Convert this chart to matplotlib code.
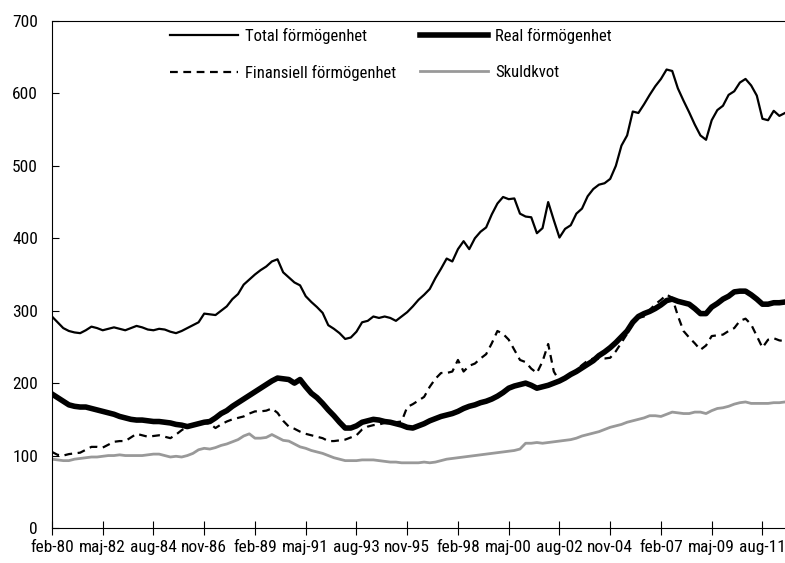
import matplotlib
matplotlib.use('Agg')
import matplotlib.pyplot as plt
from matplotlib import font_manager
import numpy as np

# quarterly values, feb-80 .. aug-12
total = [292, 284, 276, 272, 270, 269, 273, 278, 276, 273, 275, 277, 275, 273, 276, 279,
         277, 274, 273, 275, 274, 271, 269, 272, 276, 280, 284, 296, 295, 294, 300, 306,
         316, 323, 336, 343, 350, 356, 361, 368, 371, 353, 346, 339, 335, 320, 312, 305,
         297, 280, 275, 269, 261, 263, 271, 284, 286, 292, 290, 292, 290, 286, 292, 298,
         306, 315, 322, 330, 345, 358, 372, 368, 385, 396, 385, 400, 409, 415, 433, 448,
         457, 454, 455, 434, 430, 429, 407, 414, 450, 425, 401, 413, 418, 434, 441, 458,
         468, 474, 476, 482, 500, 528, 542, 575, 573, 585, 598, 610, 620, 633, 631, 607,
         590, 574, 557, 542, 536, 563, 577, 583, 598, 603, 615, 620, 611, 597, 565, 563,
         576, 569, 573]
real = [185, 180, 175, 170, 168, 167, 167, 165, 163, 161, 159, 157, 154, 152, 150, 149,
        149, 148, 147, 147, 146, 145, 143, 142, 140, 142, 144, 146, 147, 152, 158, 162,
        168, 173, 178, 183, 188, 193, 198, 203, 207, 206, 205, 200, 205, 195, 186, 180,
        172, 163, 155, 146, 138, 138, 141, 146, 148, 150, 149, 147, 146, 144, 142, 139,
        138, 141, 144, 148, 151, 154, 156, 158, 161, 165, 168, 170, 173, 175, 178, 182,
        187, 193, 196, 198, 200, 197, 193, 195, 197, 200, 203, 207, 212, 216, 221, 226,
        231, 238, 243, 249, 256, 264, 272, 284, 292, 296, 299, 303, 308, 314, 316, 313,
        311, 309, 303, 296, 296, 305, 310, 316, 320, 326, 327, 327, 322, 316, 309, 309,
        311, 311, 312]
finans = [105, 101, 100, 102, 103, 104, 108, 112, 112, 111, 115, 119, 120, 120, 125, 130,
          128, 126, 127, 128, 126, 124, 129, 135, 140, 143, 145, 145, 144, 138, 143, 147,
          150, 152, 154, 158, 161, 161, 162, 165, 159, 148, 140, 137, 133, 130, 128, 126,
          124, 120, 120, 121, 122, 125, 128, 136, 140, 142, 143, 145, 145, 146, 147, 167,
          171, 176, 181, 195, 206, 214, 214, 216, 232, 216, 224, 227, 234, 240, 255, 272,
          268, 260, 246, 232, 229, 220, 214, 230, 254, 216, 203, 207, 212, 218, 225, 231,
          234, 234, 234, 235, 244, 256, 268, 282, 290, 292, 301, 309, 315, 322, 318, 293,
          272, 263, 255, 246, 252, 265, 266, 267, 272, 276, 286, 289, 281, 265, 249, 260,
          262, 259, 258]
skuld = [95, 94, 93, 93, 95, 96, 97, 98, 98, 99, 100, 100, 101, 100, 100, 100,
         100, 101, 102, 102, 100, 98, 99, 98, 100, 103, 108, 110, 109, 111, 114, 116,
         119, 122, 127, 130, 124, 124, 125, 129, 125, 121, 120, 116, 112, 110, 107, 105,
         103, 100, 97, 95, 93, 93, 93, 94, 94, 94, 93, 92, 91, 91, 90, 90,
         90, 90, 91, 90, 91, 93, 95, 96, 97, 98, 99, 100, 101, 102, 103, 104,
         105, 106, 107, 109, 117, 117, 118, 117, 118, 119, 120, 121, 122, 124, 127, 129,
         131, 133, 136, 139, 141, 143, 146, 148, 150, 152, 155, 155, 154, 157, 160, 159,
         158, 158, 160, 160, 158, 162, 165, 166, 168, 171, 173, 174, 172, 172, 172, 172,
         173, 173, 174]

tick_labels = ['feb-80', 'maj-82', 'aug-84', 'nov-86', 'feb-89', 'maj-91', 'aug-93',
               'nov-95', 'feb-98', 'maj-00', 'aug-02', 'nov-04', 'feb-07', 'maj-09', 'aug-11']


# pick a narrow font if one is around, the original uses a condensed face
def narrow_font():
    for fam in ['Liberation Sans Narrow', 'Roboto Condensed', 'Open Sans Condensed']:
        try:
            font_manager.findfont(font_manager.FontProperties(family=fam),
                                  fallback_to_default=False)
            return fam, 'normal', 1.0
        except ValueError:
            pass
    path = font_manager.findfont(font_manager.FontProperties(family='DejaVu Sans',
                                                             stretch='condensed'))
    if 'Condensed' in path:
        return 'DejaVu Sans', 'condensed', 0.92
    return 'DejaVu Sans', 'normal', 0.8


fam, stretch, scale = narrow_font()
plt.rcParams['font.family'] = [fam, 'DejaVu Sans']
plt.rcParams['font.stretch'] = stretch
tick_size = 12.5 * scale
leg_size = 12 * scale

x = np.arange(len(total))

fig = plt.figure(figsize=(7.85, 5.63), dpi=100)
ax = fig.add_axes([0.0662, 0.0622, 0.9338, 0.9005])

l_tot, = ax.plot(x, total, color='black', lw=1.6, label='Total förmögenhet')
l_real, = ax.plot(x, real, color='black', lw=4.0, label='Real förmögenhet')
l_fin, = ax.plot(x, finans, color='black', lw=1.6, ls=(0, (3.5, 2.5)),
                 label='Finansiell förmögenhet')
l_sk, = ax.plot(x, skuld, color='#999999', lw=2.0, label='Skuldkvot')

ax.set_xlim(0, len(total) - 1)
ax.set_ylim(0, 700)
ax.set_yticks(range(0, 701, 100))
ax.set_xticks(np.arange(len(tick_labels)) * 9)
ax.set_xticklabels(tick_labels)

ax.tick_params(axis='y', direction='in', length=5, pad=10, labelsize=tick_size)
ax.tick_params(axis='x', direction='inout', length=10, pad=4, labelsize=tick_size)
ax.spines['right'].set_visible(False)

ax.legend(handles=[l_tot, l_fin, l_real, l_sk], ncol=2, loc='upper left',
          bbox_to_anchor=(0.1405, 1.016), frameon=False, handlelength=4.1,
          handletextpad=0.42, columnspacing=1.4, labelspacing=1.28, fontsize=leg_size)

fig.savefig('out.png', dpi=100)
